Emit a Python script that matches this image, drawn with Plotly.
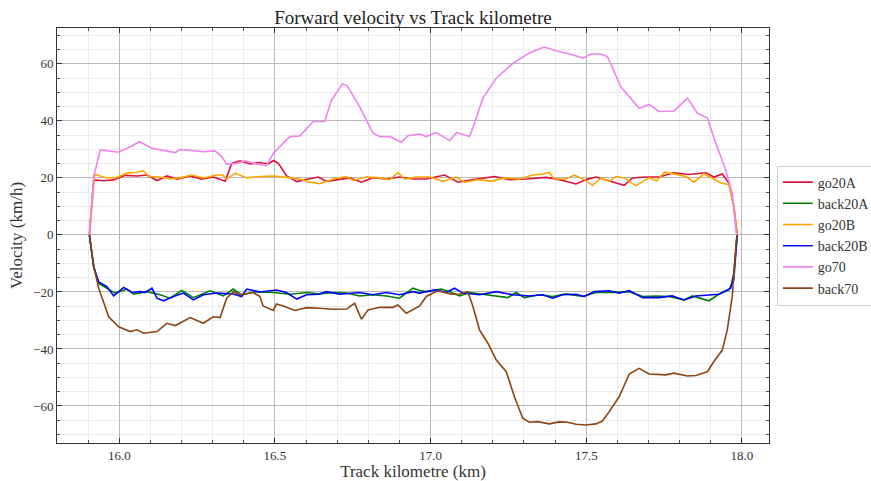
import plotly.graph_objects as go

# ---- data ----
go70_x = [15.904, 15.918, 15.939, 15.998, 16.04, 16.065, 16.105, 16.18, 16.196, 16.27, 16.308, 16.329, 16.345,
          16.377, 16.404, 16.441, 16.473, 16.495, 16.548, 16.58, 16.623, 16.66, 16.682, 16.717, 16.732, 16.772,
          16.815, 16.837, 16.869, 16.906, 16.927, 16.965, 16.986, 17.018, 17.061, 17.084, 17.125, 17.141, 17.168,
          17.211, 17.264, 17.317, 17.365, 17.403, 17.456, 17.49, 17.515, 17.547, 17.568, 17.611, 17.67, 17.702,
          17.734, 17.782, 17.825, 17.857, 17.889, 17.916, 17.948, 17.969, 17.982, 17.985]
go70_y = [0, 20.5, 29.8, 29.0, 31.2, 32.7, 30.4, 28.9, 30.0, 29.2, 29.5, 27.5, 24.8,
          25.1, 26.0, 24.9, 24.3, 28.7, 34.5, 34.7, 39.8, 39.8, 47.4, 53.0, 52.3, 45.0,
          35.7, 34.5, 34.5, 32.5, 34.8, 35.4, 34.5, 35.9, 33.1, 35.9, 34.5, 39.2, 48.0,
          55.0, 60.2, 63.8, 65.9, 64.6, 63.2, 62.0, 63.5, 63.5, 62.6, 52.0, 44.4, 45.8,
          43.3, 43.5, 48.0, 42.7, 41.0, 32.2, 22.8, 14.6, 0.6, 0]

go20A_x = [15.904, 15.918, 15.95, 15.982, 16.019, 16.057, 16.089, 16.121, 16.153, 16.185, 16.228, 16.265, 16.302,
           16.34, 16.361, 16.388, 16.42, 16.452, 16.479, 16.495, 16.511, 16.537, 16.57, 16.60, 16.639, 16.666,
           16.708, 16.74, 16.778, 16.815, 16.858, 16.9, 16.943, 16.986, 17.045, 17.088, 17.136, 17.205, 17.253,
           17.307, 17.371, 17.413, 17.467, 17.499, 17.531, 17.579, 17.622, 17.648, 17.691, 17.734, 17.782, 17.83,
           17.884, 17.91, 17.937, 17.958, 17.974, 17.985]
go20A_y = [0, 19.3, 19.0, 19.3, 20.9, 20.7, 21.0, 19.1, 20.7, 19.6, 20.7, 19.6, 20.3,
           18.8, 25.1, 26.0, 24.9, 25.4, 24.9, 26.1, 25.1, 20.8, 18.7, 19.5, 20.3, 18.8,
           19.6, 20.0, 18.5, 20.1, 19.6, 20.3, 19.6, 19.6, 21.0, 18.5, 19.4, 20.5, 19.4,
           19.6, 20.2, 19.4, 17.9, 19.4, 20.3, 18.8, 17.4, 20.0, 20.3, 20.3, 21.8, 21.2,
           21.8, 20.3, 21.4, 18.2, 10.0, 0]

back20A_x = [15.904, 15.918, 15.934, 15.966, 15.987, 16.025, 16.046, 16.089, 16.131, 16.163, 16.201, 16.238,
             16.292, 16.334, 16.366, 16.393, 16.441, 16.495, 16.548, 16.602, 16.644, 16.687, 16.73, 16.772,
             16.815, 16.858, 16.9, 16.943, 16.965, 16.986, 17.034, 17.061, 17.093, 17.125, 17.178, 17.221,
             17.248, 17.275, 17.301, 17.349, 17.392, 17.435, 17.488, 17.531, 17.585, 17.638, 17.681, 17.723,
             17.766, 17.814, 17.841, 17.894, 17.926, 17.958, 17.974, 17.985]
back20A_y = [0, -11.0, -17.0, -19.0, -20.4, -19.0, -20.8, -19.9, -21.0, -22.2, -19.5, -22.0,
             -19.6, -21.4, -19.0, -21.0, -19.9, -20.2, -20.8, -20.2, -20.7, -20.2, -20.4, -21.4,
             -21.0, -21.4, -22.2, -18.7, -19.5, -19.9, -19.0, -19.9, -21.4, -20.2, -21.0, -21.4,
             -22.0, -20.2, -22.0, -21.0, -21.6, -20.7, -21.6, -20.2, -20.2, -19.9, -21.6, -21.4,
             -21.6, -22.8, -21.4, -23.1, -20.8, -19.3, -15.8, 0]

go20B_x = [15.904, 15.921, 15.96, 15.993, 16.025, 16.051, 16.078, 16.094, 16.131, 16.163, 16.201, 16.233, 16.27,
           16.313, 16.332, 16.345, 16.372, 16.409, 16.452, 16.495, 16.537, 16.58, 16.612, 16.644, 16.687, 16.73,
           16.751, 16.794, 16.837, 16.869, 16.895, 16.917, 16.954, 16.997, 17.04, 17.082, 17.109, 17.152, 17.195,
           17.237, 17.285, 17.328, 17.36, 17.381, 17.397, 17.434, 17.462, 17.494, 17.52, 17.547, 17.574, 17.595,
           17.622, 17.659, 17.702, 17.726, 17.752, 17.788, 17.82, 17.846, 17.878, 17.91, 17.932, 17.958, 17.974,
           17.985]
go20B_y = [0, 21.3, 20.0, 20.2, 21.7, 21.9, 22.5, 20.5, 20.3, 19.6, 20.2, 21.0, 20.0,
           21.0, 21.0, 19.6, 21.7, 20.0, 20.5, 20.7, 20.2, 19.6, 18.5, 18.0, 19.6, 20.5,
           19.1, 20.3, 20.0, 19.4, 21.9, 19.6, 20.3, 20.3, 18.8, 20.3, 18.5, 19.4, 18.8,
           20.0, 19.6, 21.0, 21.4, 21.9, 19.6, 19.6, 21.0, 19.4, 17.4, 20.0, 18.8, 20.5,
           20.0, 17.3, 20.0, 19.0, 22.0, 21.2, 20.5, 18.5, 21.4, 19.6, 18.2, 17.7, 10.0,
           0]

back20B_x = [15.904, 15.918, 15.934, 15.96, 15.982, 16.014, 16.041, 16.067, 16.083, 16.105, 16.121, 16.142, 16.174,
             16.206, 16.238, 16.27, 16.313, 16.366, 16.393, 16.409, 16.452, 16.505, 16.537, 16.57, 16.602, 16.639,
             16.666, 16.708, 16.772, 16.815, 16.858, 16.9, 16.943, 16.965, 16.986, 17.018, 17.05, 17.077, 17.104,
             17.157, 17.211, 17.264, 17.317, 17.36, 17.392, 17.424, 17.467, 17.494, 17.526, 17.574, 17.606, 17.638,
             17.681, 17.734, 17.776, 17.814, 17.852, 17.894, 17.926, 17.964, 17.974, 17.985]
back20B_y = [0, -11.5, -16.5, -18.1, -21.4, -18.4, -20.2, -19.9, -20.2, -18.7, -22.2, -23.1, -21.6,
             -20.4, -22.8, -21.0, -20.4, -20.7, -21.6, -19.0, -20.0, -19.3, -20.2, -22.5, -21.0, -20.8,
             -19.9, -20.8, -20.2, -21.0, -20.2, -21.0, -19.9, -20.4, -19.9, -19.3, -20.2, -18.7, -20.4,
             -21.0, -19.9, -21.0, -21.4, -21.0, -22.2, -21.0, -20.8, -21.6, -19.9, -19.6, -20.4, -19.5,
             -22.0, -22.0, -21.4, -22.8, -21.4, -21.0, -20.8, -18.7, -13.5, 0]

back70_x = [15.904, 15.918, 15.934, 15.966, 15.998, 16.035, 16.057, 16.078, 16.121, 16.153, 16.18, 16.228, 16.27,
            16.302, 16.324, 16.345, 16.366, 16.388, 16.43, 16.452, 16.462, 16.495, 16.505, 16.527, 16.564, 16.602,
            16.644, 16.687, 16.73, 16.756, 16.778, 16.799, 16.837, 16.879, 16.895, 16.922, 16.965, 16.986, 17.023,
            17.066, 17.093, 17.12, 17.136, 17.157, 17.184, 17.211, 17.243, 17.269, 17.296, 17.317, 17.344, 17.381,
            17.413, 17.44, 17.467, 17.499, 17.531, 17.552, 17.574, 17.606, 17.638, 17.67, 17.702, 17.755, 17.782,
            17.825, 17.852, 17.889, 17.91, 17.937, 17.953, 17.969, 17.982, 17.985]
back70_y = [0, -11.1, -18.7, -28.7, -32.2, -33.9, -33.3, -34.5, -33.9, -31.0, -31.8, -29.0, -31.0,
            -28.7, -29.0, -22.2, -19.9, -21.0, -20.2, -21.6, -24.9, -26.5, -24.2, -24.9, -26.5, -25.5,
            -25.7, -26.1, -26.0, -24.0, -29.6, -26.3, -25.4, -25.4, -24.6, -27.5, -24.9, -21.6, -19.6,
            -20.8, -20.7, -19.9, -25.1, -33.3, -38.0, -43.9, -48.0, -56.7, -64.3, -65.7, -65.5, -66.3,
            -65.6, -65.7, -66.4, -66.7, -66.3, -65.3, -62.0, -56.7, -48.8, -46.8, -48.8, -49.1, -48.5,
            -49.5, -49.3, -48.0, -44.4, -40.4, -33.3, -21.6, -1.8, 0]

series = [
    ("go20A", go20A_x, go20A_y, "#DC143C"),
    ("back20A", back20A_x, back20A_y, "#008000"),
    ("go20B", go20B_x, go20B_y, "#FFA500"),
    ("back20B", back20B_x, back20B_y, "#0000FF"),
    ("go70", go70_x, go70_y, "#EE82EE"),
    ("back70", back70_x, back70_y, "#8B4513"),
]

FONT = "Liberation Serif"

fig = go.Figure()
for name, xs, ys, col in series:
    fig.add_trace(go.Scatter(x=xs, y=ys, mode="lines", name=name,
                             line=dict(color=col, width=1.6)))

axis_common = dict(
    showline=True, linecolor="#333333", linewidth=1, mirror="allticks",
    ticks="inside", ticklen=5, tickcolor="#333333",
    showgrid=True, gridcolor="#b8b8b8", gridwidth=1,
    zeroline=False,
    tickfont=dict(family=FONT, size=13, color="#333333"),
)

fig.update_layout(
    width=871, height=481,
    margin=dict(l=57, r=102, t=28, b=38, autoexpand=False),
    paper_bgcolor="white", plot_bgcolor="white",
    title=dict(text="Forward velocity vs Track kilometre", x=(57 + 769) / 2 / 871, xanchor="center",
               y=1 - 17 / 481, yanchor="middle",
               font=dict(family=FONT, size=19, color="#222222")),
    font=dict(family=FONT, color="#333333"),
    xaxis=dict(range=[15.80, 18.087], tickvals=[16.0, 16.5, 17.0, 17.5, 18.0],
               ticktext=["16.0", "16.5", "17.0", "17.5", "18.0"],
               title=dict(text="Track kilometre (km)", font=dict(family=FONT, size=17, color="#333333"),
                          standoff=5),
               minor=dict(dtick=0.1, tick0=16.0, showgrid=True, gridcolor="#ebebeb", ticks="inside",
                          ticklen=3, tickcolor="#555555"),
               **axis_common),
    yaxis=dict(range=[-73.0, 72.6], tickvals=[-60, -40, -20, 0, 20, 40, 60],
               title=dict(text="Velocity (km/h)", font=dict(family=FONT, size=17, color="#333333"),
                          standoff=6),
               minor=dict(dtick=5, tick0=0, showgrid=True, gridcolor="#ebebeb", ticks="inside",
                          ticklen=3, tickcolor="#555555"),
               **axis_common),
    legend=dict(x=1.011, xanchor="left", y=0.5, yanchor="middle",
                bordercolor="#d0d0d0", borderwidth=1, bgcolor="white",
                font=dict(family=FONT, size=14, color="#333333"),
                tracegroupgap=0, itemwidth=30),
    showlegend=True,
)

fig.write_html("out.html")
